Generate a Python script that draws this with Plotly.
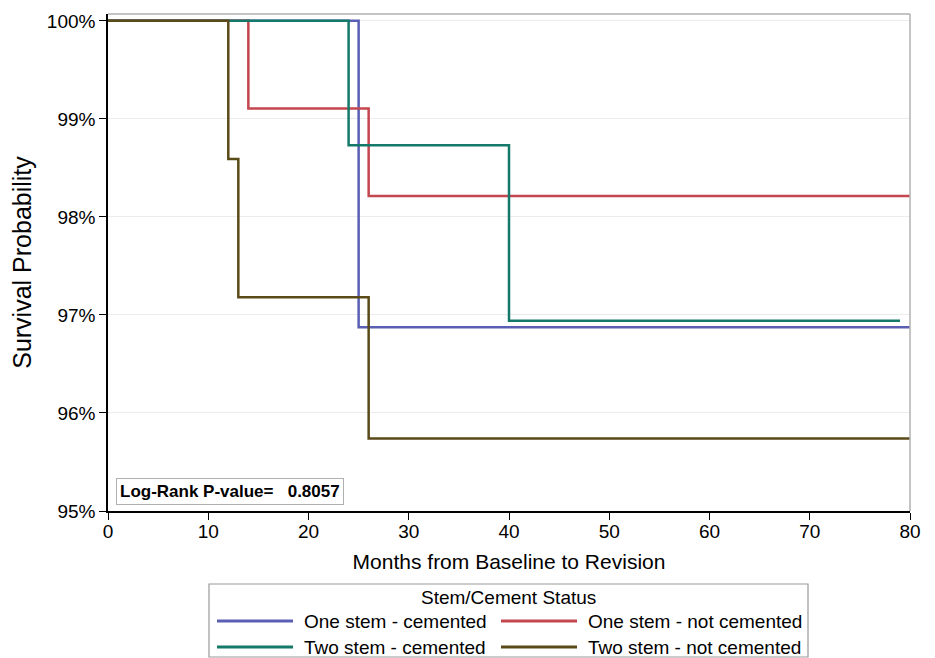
import plotly.graph_objects as go

# Kaplan-Meier step data (months, survival %)
one_cem_x = [0, 25, 80]
one_cem_y = [100.0, 96.875, 96.875]

one_notcem_x = [0, 14, 26, 80]
one_notcem_y = [100.0, 99.107, 98.214, 98.214]

two_cem_x = [0, 24, 40, 79]
two_cem_y = [100.0, 98.73, 96.94, 96.94]

two_notcem_x = [0, 12, 13, 26, 80]
two_notcem_y = [100.0, 98.59, 97.18, 95.74, 95.74]

names = ["One stem - cemented", "One stem - not cemented", "Two stem - cemented", "Two stem - not cemented"]
colors = ["#5b5fb3", "#c4474f", "#15796a", "#5a4a18"]
series = [(one_cem_x, one_cem_y), (one_notcem_x, one_notcem_y), (two_cem_x, two_cem_y), (two_notcem_x, two_notcem_y)]

y_ticks = [95, 96, 97, 98, 99, 100]
y_ticklabels = ["95%", "96%", "97%", "98%", "99%", "100%"]
x_ticks = [0, 10, 20, 30, 40, 50, 60, 70, 80]

legend_title = "Stem/Cement Status"
pvalue_text = "Log-Rank P-value=   0.8057"

# Figure geometry (page body has an 8px margin)
W, H = 927, 650
ML, MR, MT, MB = 100, 25, 6, 147
PW, PH = W - ML - MR, H - MT - MB


def px(sx):  # screen x -> paper x
    return (sx - 8 - ML) / PW


def py(sy):  # screen y -> paper y
    return (H - MB - (sy - 8)) / PH


fig = go.Figure()
for (xs, ys), n, c in zip(series, names, colors):
    fig.add_trace(go.Scatter(x=xs, y=ys, mode="lines", name=n, showlegend=False,
                             line=dict(color=c, width=2.5, shape="hv")))

fig.update_layout(
    width=W, height=H,
    margin=dict(l=ML, r=MR, t=MT, b=MB, autoexpand=False),
    paper_bgcolor="white", plot_bgcolor="white",
    font=dict(family="Liberation Sans, Arial, sans-serif", size=18, color="black"),
    xaxis=dict(range=[0, 80], tickvals=x_ticks, ticks="outside", ticklen=7, tickcolor="black",
               showline=True, linecolor="black", linewidth=1.5, mirror=False,
               showgrid=False, zeroline=False, automargin=False, ticklabelstandoff=-5,
               title=dict(text="Months from Baseline to Revision", font=dict(size=21), standoff=14),
               tickfont=dict(size=19)),
    yaxis=dict(range=[95, 100.07], tickvals=y_ticks, ticktext=y_ticklabels, ticks="outside",
               ticklen=7, tickcolor="black", showline=True, linecolor="black", linewidth=1.5,
               showgrid=True, gridcolor="#ececec", gridwidth=1, zeroline=False, automargin=False,
               title=dict(text="Survival Probability", font=dict(size=25), standoff=16),
               tickfont=dict(size=19)),
    showlegend=False,
)

# top and right frame borders (gray)
fig.add_shape(type="line", xref="paper", yref="paper", x0=0, x1=1, y0=1, y1=1,
              line=dict(color="#b0b0b0", width=1.5))
fig.add_shape(type="line", xref="paper", yref="paper", x0=1, x1=1, y0=0, y1=1,
              line=dict(color="#b0b0b0", width=1.5))

fig.add_annotation(x=0.01, y=0.012, xref="paper", yref="paper", xanchor="left", yanchor="bottom",
                   text="<b>" + pvalue_text + "</b>", showarrow=False,
                   font=dict(size=17, color="black"), bordercolor="#b0b0b0", borderwidth=1,
                   borderpad=3, bgcolor="white")

# Legend box drawn below the plot
fig.add_shape(type="rect", xref="paper", yref="paper", x0=px(209), x1=px(808), y0=py(584), y1=py(657),
              line=dict(color="#999999", width=1.2), fillcolor="white")
fig.add_annotation(x=px(508), y=py(597), xref="paper", yref="paper", xanchor="center", yanchor="middle",
                   text=legend_title, showarrow=False, font=dict(size=19))
line_x0 = [217, 501, 217, 501]
line_x1 = [293, 577, 293, 577]
text_x = [302, 586, 302, 586]
row_y = [621, 621, 647, 647]
for i, (n, c) in enumerate(zip(names, colors)):
    fig.add_shape(type="line", xref="paper", yref="paper", x0=px(line_x0[i]), x1=px(line_x1[i]),
                  y0=py(row_y[i]), y1=py(row_y[i]), line=dict(color=c, width=3))
    fig.add_annotation(x=px(text_x[i]), y=py(row_y[i]), xref="paper", yref="paper",
                       xanchor="left", yanchor="middle", text=n, showarrow=False,
                       font=dict(size=19))

fig.write_html("out.html")
